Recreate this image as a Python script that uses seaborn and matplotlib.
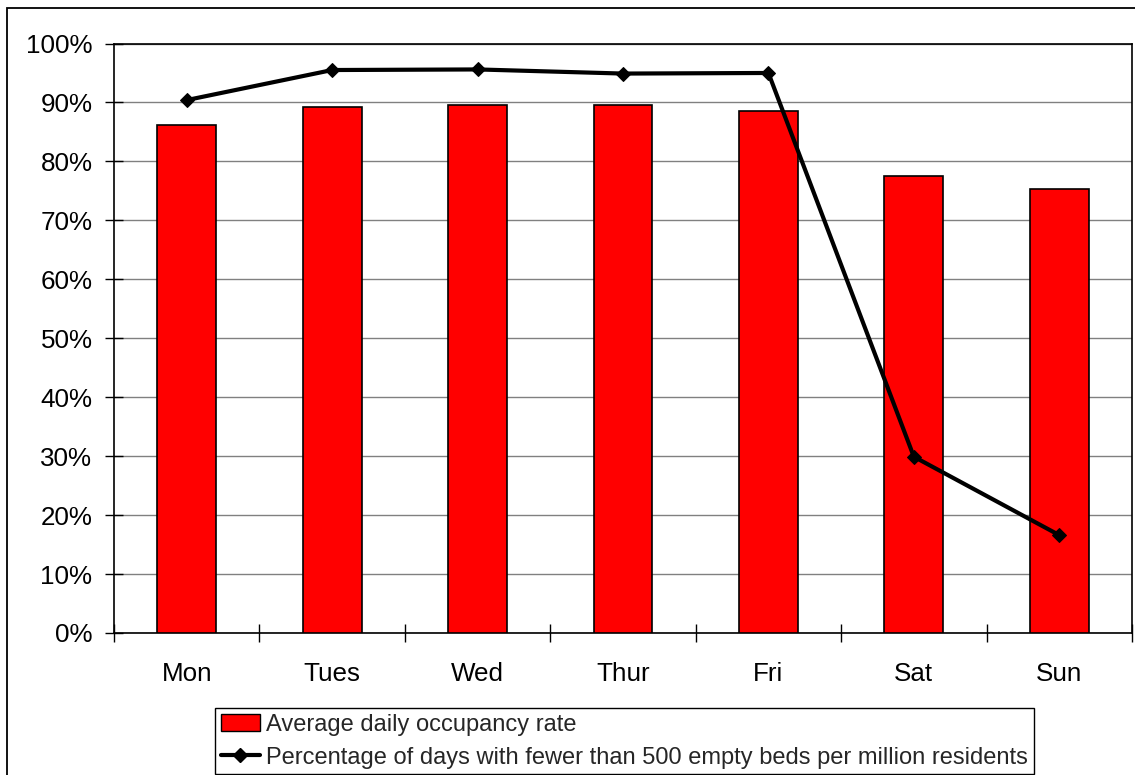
import matplotlib
matplotlib.use("Agg")
import matplotlib.pyplot as plt
from matplotlib.patches import Rectangle, Patch
from matplotlib.lines import Line2D
from matplotlib.ticker import MultipleLocator, PercentFormatter
import numpy as np
import pandas as pd
import seaborn as sns

days = ["Mon", "Tues", "Wed", "Thur", "Fri", "Sat", "Sun"]
occupancy = [86.1, 89.2, 89.6, 89.5, 88.5, 77.6, 75.4]
few_empty_beds = [90.4, 95.5, 95.6, 94.9, 95.0, 29.9, 16.6]
bar_label = "Average daily occupancy rate"
line_label = "Percentage of days with fewer than 500 empty beds per million residents"

sns.set_theme(style="white")
plt.rcParams["font.family"] = ["Liberation Sans", "DejaVu Sans"]

df = pd.DataFrame({"day": days, "occupancy": occupancy, "few": few_empty_beds})

fig = plt.figure(figsize=(11.35, 7.75), dpi=100)
ax = fig.add_axes([114 / 1135, 1 - 633 / 775, (1132 - 114) / 1135, (633 - 43.5) / 775])

# outer chart border
fig.patches.append(Rectangle((7 / 1135, -0.1), 1.2, (775 - 8) / 775 + 0.1,
                             transform=fig.transFigure, fill=False,
                             edgecolor="black", linewidth=1.3, zorder=0))

sns.barplot(data=df, x="day", y="occupancy", color="#ff0000", edgecolor="black",
            linewidth=1.2, width=0.405, saturation=1, ax=ax, zorder=3)
sns.lineplot(x=np.arange(len(days)), y=df["few"], color="black", linewidth=3.0,
             marker="D", markersize=7.5, markeredgecolor="black", ax=ax, zorder=4)

ax.set_xlim(-0.5, len(days) - 0.5)
ax.set_ylim(0, 100)
ax.yaxis.set_major_locator(MultipleLocator(10))
ax.yaxis.set_major_formatter(PercentFormatter(decimals=0))
ax.grid(axis="y", color="#808080", linewidth=1.0, zorder=0)
ax.set_axisbelow(True)
ax.set_xlabel("")
ax.set_ylabel("")

for side in ["left", "bottom", "top", "right"]:
    ax.spines[side].set_visible(True)
    ax.spines[side].set_color("black")
    ax.spines[side].set_linewidth(1.2)

ax.set_xticks(np.arange(-0.5, len(days), 1.0), minor=True)
ax.tick_params(axis="x", which="major", length=0, pad=21, labelsize=18.7, colors="black")
ax.tick_params(axis="x", which="minor", direction="inout", length=13, width=1.0,
               color="black", bottom=True)
ax.tick_params(axis="y", which="major", direction="inout", length=13, width=1.0,
               color="black", left=True, pad=9, labelsize=18.7, labelcolor="black")

handles = [Patch(facecolor="#ff0000", edgecolor="black", linewidth=1.0),
           Line2D([], [], color="black", linewidth=3.0, marker="D", markersize=7)]
fig.legend(handles, [bar_label, line_label], loc="upper left",
           bbox_to_anchor=(215 / 1135, 1 - 708 / 775), fontsize=17,
           frameon=True, fancybox=False, edgecolor="black", framealpha=1,
           borderpad=0.25, handlelength=1.65, handleheight=0.7, handletextpad=0.25,
           labelspacing=0.45, borderaxespad=0)

fig.savefig("out.png", dpi=100)
